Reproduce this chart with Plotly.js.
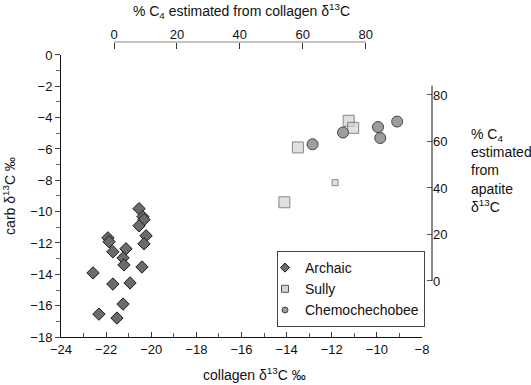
<!DOCTYPE html>
<html><head><meta charset="utf-8">
<script src="https://cdn.plot.ly/plotly-3.0.1.min.js"></script>
<style>html,body{margin:0;padding:0;background:#fff}#chart{width:531px;height:385px}</style>
</head><body><div id="chart"></div>
<script>
// Archaic (diamonds)
const archaicX = [-20.54,-20.37,-20.32,-20.54,-20.23,-20.32,-21.92,-21.87,-21.70,-21.12,-21.25,-21.21,-20.41,-22.58,-21.70,-20.94,-21.25,-22.32,-21.52];
const archaicY = [-9.81,-10.32,-10.51,-10.90,-11.54,-12.05,-11.67,-11.92,-12.56,-12.37,-12.95,-13.40,-13.53,-13.91,-14.62,-14.55,-15.90,-16.54,-16.79];
// Sully (squares)
const sullyX = [-14.1,-13.5,-11.25,-11.05,-11.85];
const sullyY = [-9.4,-5.9,-4.2,-4.65,-8.15];
// Chemochechobee (circles)
const chemoX = [-12.85,-11.5,-9.95,-9.85,-9.1];
const chemoY = [-5.7,-4.95,-4.6,-5.3,-4.25];

const xTicks = [-24,-22,-20,-18,-16,-14,-12,-10,-8];
const yTicks = [0,-2,-4,-6,-8,-10,-12,-14,-16,-18];
const topTicks = [0,20,40,60,80];
const rightTicks = [0,20,40,60,80];
const seriesNames = ['Archaic','Sully','Chemochechobee'];

const F = 'Liberation Sans, Arial, Helvetica, sans-serif';
const minus = v => (v < 0 ? '\u2212' + Math.abs(v) : String(v));

const traces = [
  {x: archaicX, y: archaicY, type:'scatter', mode:'markers', name: seriesNames[0], showlegend:false,
   marker:{symbol:'diamond', size:9.5, color:'#6b6b6b', line:{color:'#1a1a1a', width:1}}},
  {x: sullyX, y: sullyY, type:'scatter', mode:'markers', name: seriesNames[1], showlegend:false,
   marker:{symbol:'square', size:[11,11,11,11,6], color:'#d4d4d4', line:{color:'#555', width:1}}},
  {x: chemoX, y: chemoY, type:'scatter', mode:'markers', name: seriesNames[2], showlegend:false,
   marker:{symbol:'circle', size:11, color:'#9d9d9d', line:{color:'#444', width:1}}},
  // legend-only entries (smaller symbols as in the original key)
  {x:[null], y:[null], type:'scatter', mode:'markers', name: seriesNames[0],
   marker:{symbol:'diamond', size:7, color:'#6b6b6b', line:{color:'#1a1a1a', width:1}}},
  {x:[null], y:[null], type:'scatter', mode:'markers', name: seriesNames[1],
   marker:{symbol:'square', size:7, color:'#d4d4d4', line:{color:'#555', width:1}}},
  {x:[null], y:[null], type:'scatter', mode:'markers', name: seriesNames[2],
   marker:{symbol:'circle', size:6, color:'#9d9d9d', line:{color:'#444', width:1}}},
  // invisible traces to activate secondary axes
  {x: topTicks, y:[null,null,null,null,null], xaxis:'x2', yaxis:'y', type:'scatter', mode:'markers', showlegend:false, hoverinfo:'skip'},
  {x:[null,null,null,null,null], y: rightTicks, xaxis:'x', yaxis:'y2', type:'scatter', mode:'markers', showlegend:false, hoverinfo:'skip'}
];

const layout = {
  width:531, height:385,
  margin:{l:61, r:99, t:42, b:48},
  paper_bgcolor:'#fff', plot_bgcolor:'#fff',
  font:{family:F, size:13, color:'#111'},
  showlegend:true,
  xaxis:{
    domain:[0,0.973], range:[-24,-8], showgrid:false, zeroline:false,
    showline:true, linecolor:'#111', linewidth:1,
    ticks:'inside', ticklen:5, tickcolor:'#333', tickwidth:1,
    tickvals:xTicks, ticktext:xTicks.map(minus),
    minor:{ticks:'inside', dtick:1, ticklen:4, tickcolor:'#555'},
    tickfont:{family:F, size:13, color:'#111'}, automargin:false
  },
  yaxis:{
    domain:[0,0.956], range:[-18,0], showgrid:false, zeroline:false,
    showline:true, linecolor:'#111', linewidth:1,
    ticks:'outside', ticklen:5, tickcolor:'#444', tickwidth:1,
    tickvals:yTicks, ticktext:yTicks.map(minus),
    minor:{ticks:'outside', dtick:1, ticklen:4, tickcolor:'#666'},
    tickfont:{family:F, size:13, color:'#111'}, automargin:false,
    title:{text:'carb \u03b4<sup>13</sup>C \u2030', font:{family:F, size:14, color:'#111'}, standoff:12}
  },
  xaxis2:{
    overlaying:'x', side:'top', anchor:'free', position:1,
    range:[-16.85,97.9], showgrid:false, zeroline:false, showline:false,
    ticks:'inside', ticklen:6, tickcolor:'#333', tickwidth:1,
    tickvals:topTicks, ticktext:topTicks.map(String),
    tickfont:{family:F, size:13, color:'#111'}, automargin:false,
    title:{text:'% C<sub>4</sub> estimated from collagen \u03b4<sup>13</sup>C', font:{family:F, size:14, color:'#111'}, standoff:6}
  },
  yaxis2:{
    overlaying:'y', side:'right', anchor:'free', position:1,
    range:[-24.1,97.2], showgrid:false, zeroline:false, showline:false,
    ticks:'inside', ticklen:5, tickcolor:'#555', tickwidth:1,
    tickvals:rightTicks, ticktext:rightTicks.map(String),
    tickfont:{family:F, size:13, color:'#111'}, automargin:false
  },
  shapes:[
    {type:'line', xref:'x2', yref:'paper', x0:0, x1:80, y0:1, y1:1, line:{color:'#888', width:1.2}},
    {type:'line', xref:'paper', yref:'y2', x0:1, x1:1, y0:0, y1:84, line:{color:'#111', width:1}}
  ],
  annotations:[
    {xref:'paper', yref:'paper', x:(254-61)/371, y:-(374-337)/295, xanchor:'center', yanchor:'middle', showarrow:false,
     text:'collagen \u03b4<sup>13</sup>C \u2030', font:{family:F, size:14, color:'#111'}},
    {xref:'paper', yref:'paper', x:(469-61)/371, y:(337-124)/295, xanchor:'left', yanchor:'top', align:'left', showarrow:false,
     text:'% C<sub>4</sub><br>estimated<br>from<br>apatite<br>\u03b4<sup>13</sup>C', font:{family:F, size:14, color:'#111'}}
  ],
  legend:{
    x:(277-61)/371, y:(337-251)/295, xanchor:'left', yanchor:'top',
    bgcolor:'#fff', bordercolor:'#444', borderwidth:1,
    font:{family:F, size:14, color:'#111'}, indentation:-13, tracegroupgap:0
  }
};

Plotly.newPlot('chart', traces, layout, {staticPlot:true, displayModeBar:false});
</script></body></html>
